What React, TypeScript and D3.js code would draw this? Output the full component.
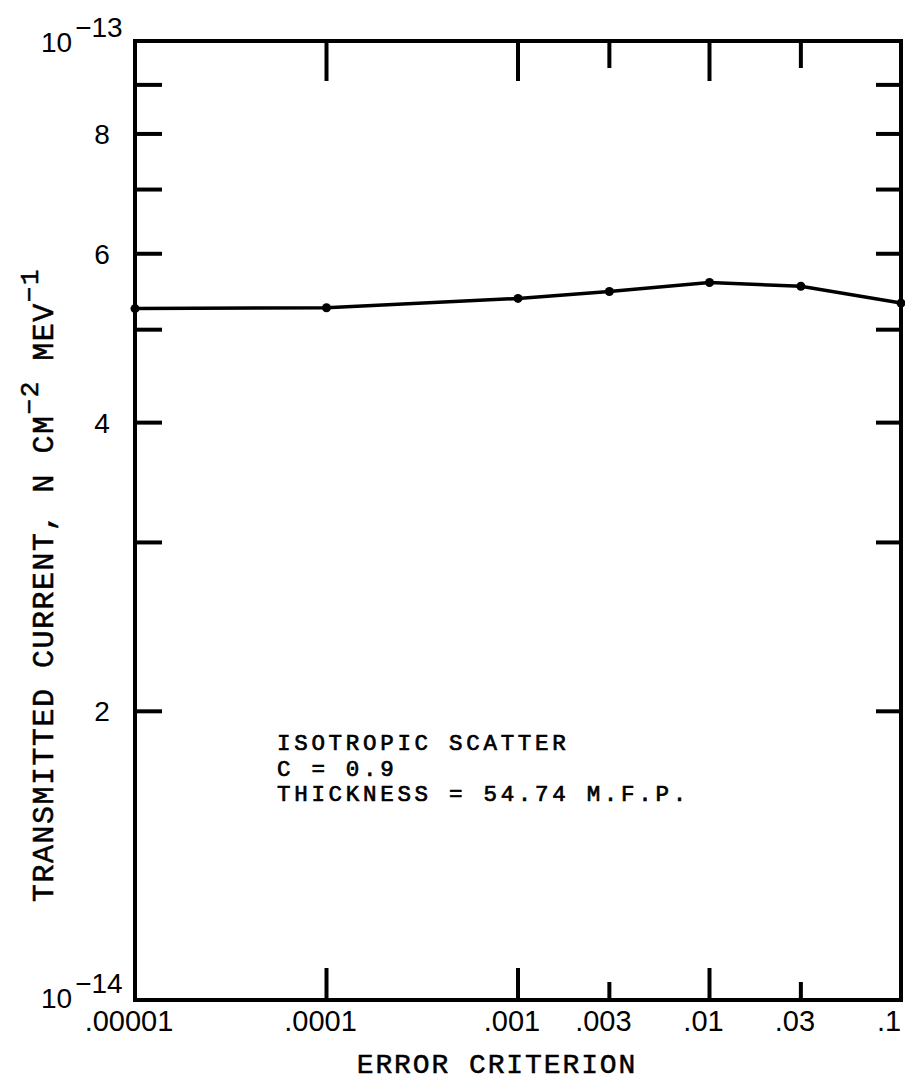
import React from "react";
import * as d3 from "d3";

const xValues = [1e-5, 1e-4, 1e-3, 3e-3, 1e-2, 3e-2, 1e-1];
const yValues = [5.26e-14, 5.27e-14, 5.39e-14, 5.48e-14, 5.6e-14, 5.55e-14, 5.33e-14];

const xTickValues = [1e-5, 1e-4, 1e-3, 3e-3, 1e-2, 3e-2, 1e-1];
const xTickLabels = [".00001", ".0001", ".001", ".003", ".01", ".03", ".1"];
const xTopTicks = [1e-4, 1e-3, 3e-3, 1e-2, 3e-2];
const xMajor = [1e-4, 1e-3, 1e-2];

const yTickValues = [2e-14, 3e-14, 4e-14, 5e-14, 6e-14, 7e-14, 8e-14, 9e-14];
const yLabelValues = [2e-14, 4e-14, 6e-14, 8e-14];
const yLabelTexts = ["2", "4", "6", "8"];

const annotation = ["ISOTROPIC SCATTER", "C = 0.9", "THICKNESS = 54.74 M.F.P."];

const W = 905;
const H = 1083;
const L = 135, R = 901, T = 41, B = 1000;

export default function App() {
  const x = d3.scaleLog().domain([1e-5, 0.1]).range([L, R]);
  const y = d3.scaleLog().domain([1e-14, 1e-13]).range([B, T]);
  const pts = xValues.map((v, i) => [x(v), y(yValues[i])] as [number, number]);
  const line = d3.line()(pts) || "";
  const sans = "'Liberation Sans', Arial, sans-serif";
  const mono = "'Liberation Mono', 'Courier New', monospace";
  const sw = 4;

  return (
    <div style={{ position: "absolute", left: 0, top: 0 }}>
      <svg width={W} height={H} style={{ display: "block", background: "#fff" }}>
        <rect x={0} y={0} width={W} height={H} fill="#fff" />
        {/* frame */}
        <rect x={L} y={T} width={R - L} height={B - T} fill="none" stroke="#000" strokeWidth={sw} />
        {/* y ticks */}
        {yTickValues.map((v, i) => (
          <g key={"yt" + i}>
            <line x1={L} x2={L + 27} y1={y(v)} y2={y(v)} stroke="#000" strokeWidth={sw} />
            <line x1={R} x2={R - 25} y1={y(v)} y2={y(v)} stroke="#000" strokeWidth={sw} />
          </g>
        ))}
        {yLabelValues.map((v, i) => (
          <text key={"yl" + i} x={102} y={y(v) + 10} textAnchor="middle" fontFamily={sans} fontSize={28}>
            {yLabelTexts[i]}
          </text>
        ))}
        {/* 10^-13 and 10^-14 */}
        <text x={41} y={52} fontFamily={sans} fontSize={28}>
          10
          <tspan dx={3} dy={-15}>−13</tspan>
        </text>
        <text x={41} y={1008} fontFamily={sans} fontSize={28}>
          10
          <tspan dx={3} dy={-15}>−14</tspan>
        </text>
        {/* x ticks */}
        {xTopTicks.map((v, i) => {
          const major = xMajor.includes(v);
          return (
            <g key={"xt" + i}>
              <line x1={x(v)} x2={x(v)} y1={T} y2={T + (major ? 40 : 27)} stroke="#000" strokeWidth={sw} />
              <line x1={x(v)} x2={x(v)} y1={B} y2={B - (major ? 32 : 18)} stroke="#000" strokeWidth={sw} />
            </g>
          );
        })}
        {xTickValues.map((v, i) => (
          <text key={"xl" + i} x={Math.min(x(v) - 6, W - 16)} y={1031} textAnchor="middle" fontFamily={sans} fontSize={29}>
            {xTickLabels[i]}
          </text>
        ))}
        {/* data */}
        <path d={line} fill="none" stroke="#000" strokeWidth={3.5} />
        {pts.map((p, i) => (
          <circle key={"p" + i} cx={p[0]} cy={p[1]} r={4.5} fill="#000" />
        ))}
        {/* annotation */}
        {annotation.map((s, i) => (
          <text key={"a" + i} x={277} y={750 + i * 25.5} fontFamily={mono} fontSize={22.5} letterSpacing={3.7}
            stroke="#000" strokeWidth={0.7} xmlSpace="preserve">
            {s}
          </text>
        ))}
        {/* axis titles */}
        <text x={497} y={1073} textAnchor="middle" fontFamily={mono} fontSize={28} letterSpacing={1.9}
          stroke="#000" strokeWidth={0.5}>
          ERROR CRITERION
        </text>
        <text transform="translate(53,585) rotate(-90)" textAnchor="middle" fontFamily={mono} fontSize={30}
          letterSpacing={1.5} stroke="#000" strokeWidth={0.5}>
          TRANSMITTED CURRENT, N CM
          <tspan fontSize={26} dy={-15}>−2</tspan>
          <tspan dy={15}> MEV</tspan>
          <tspan fontSize={26} dy={-15}>−1</tspan>
        </text>
      </svg>
    </div>
  );
}
